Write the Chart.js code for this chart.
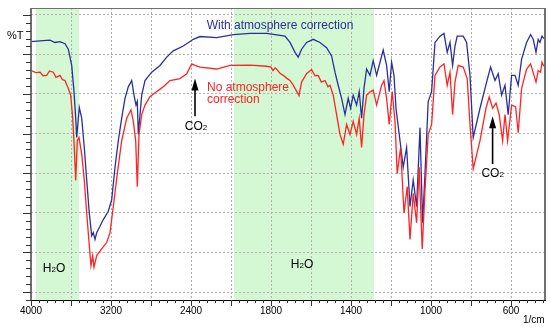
<!DOCTYPE html>
<html>
<head>
<meta charset="utf-8">
<script src="https://cdn.jsdelivr.net/npm/chart.js@4.4.1/dist/chart.umd.min.js"></script>
<style>
  html, body { margin: 0; padding: 0; background: #fff; }
</style>
</head>
<body>
<canvas id="grafico1" width="550" height="330"></canvas>
<script>
// Espectro con corrección atmosférica (azul): número de onda (1/cm) y %T
const blueWn = [4000, 3910, 3810, 3760, 3710, 3660, 3627, 3593, 3570, 3553, 3543, 3517, 3493, 3467, 3443, 3417, 3393, 3377, 3360, 3343,
  3310, 3277, 3227, 3193, 3160, 3127, 3093, 3060, 3027, 2993, 2970, 2950, 2937, 2927, 2893, 2860, 2793, 2710, 2643, 2577,
  2477, 2377, 2310, 2143, 1988, 1905, 1822, 1730, 1705, 1680, 1664, 1647, 1622, 1589, 1555, 1522, 1497, 1480, 1464, 1447,
  1430, 1414, 1402, 1389, 1372, 1359, 1347, 1335, 1322, 1305, 1289, 1272, 1255, 1239, 1222, 1209, 1197, 1185, 1175, 1155,
  1139, 1122, 1105, 1089, 1072, 1055, 1042, 1030, 1014, 997, 980, 955, 935, 919, 905, 892, 880, 869, 839, 822,
  805, 789, 755, 722, 702, 680, 664, 647, 630, 614, 597, 580, 564, 547, 522, 502, 489, 475, 464, 455,
  445, 436];
const blueT = [93.2, 93.4, 93.6, 93.0, 93.2, 92.7, 91.3, 87.2, 80.6, 73.9, 69.0, 76.6, 73.9, 66.5, 58.3, 49.9, 44.2, 45.0, 43.3, 45.0,
  46.6, 48.3, 50.4, 53.3, 61.5, 68.2, 73.9, 78.9, 81.8, 83.4, 79.7, 77.2, 78.1, 69.8, 79.7, 83.4, 85.5, 87.2, 89.3, 90.9,
  92.1, 93.8, 94.5, 94.2, 95.0, 95.3, 95.3, 94.6, 93.0, 90.5, 89.3, 91.3, 93.0, 93.8, 93.0, 91.7, 89.6, 85.5, 82.2, 78.9,
  74.8, 78.9, 76.4, 79.7, 77.2, 80.6, 73.9, 81.4, 86.3, 84.7, 88.4, 84.7, 88.0, 91.1, 87.2, 80.6, 88.0, 84.7, 76.4, 68.2,
  61.5, 66.5, 51.6, 58.3, 51.6, 71.5, 47.5, 59.9, 78.1, 80.6, 93.0, 94.6, 95.3, 90.5, 93.0, 87.2, 92.1, 94.6, 94.6, 93.0,
  84.7, 69.0, 76.4, 83.0, 86.8, 83.4, 85.1, 79.7, 82.2, 74.8, 84.7, 84.7, 82.2, 88.8, 93.0, 95.0, 93.8, 90.5, 93.8, 93.0,
  94.6, 94.0];

// Espectro sin corrección atmosférica (rojo)
const redWn = [4000, 3950, 3910, 3880, 3843, 3815, 3777, 3750, 3710, 3685, 3660, 3627, 3603, 3583, 3567, 3553, 3537, 3520, 3493, 3467,
  3443, 3417, 3400, 3383, 3370, 3343, 3293, 3243, 3210, 3177, 3137, 3093, 3043, 3000, 2977, 2953, 2937, 2920, 2893, 2860,
  2810, 2743, 2677, 2610, 2510, 2443, 2393, 2360, 2310, 2143, 2010, 1905, 1822, 1800, 1790, 1780, 1772, 1755, 1739, 1722,
  1705, 1690, 1680, 1660, 1647, 1622, 1597, 1580, 1564, 1548, 1530, 1515, 1505, 1489, 1472, 1455, 1439, 1422, 1405, 1389,
  1372, 1359, 1347, 1335, 1322, 1302, 1289, 1272, 1247, 1235, 1222, 1209, 1194, 1180, 1169, 1152, 1135, 1119, 1105, 1089,
  1072, 1059, 1044, 1030, 1014, 997, 980, 955, 935, 919, 905, 892, 880, 864, 839, 819, 805, 789, 755, 725,
  709, 692, 675, 659, 642, 630, 617, 597, 577, 564, 547, 522, 502, 485, 475, 464, 452, 445, 436];
const redT = [85.9, 85.4, 85.5, 84.6, 84.7, 85.8, 85.5, 84.2, 84.7, 83.6, 83.4, 81.4, 79.7, 73.9, 66.5, 58.2, 68.2, 69.0, 64.8, 58.2,
  49.9, 41.7, 36.7, 39.2, 36.3, 39.2, 40.9, 42.5, 45.0, 51.6, 59.9, 68.2, 73.9, 76.0, 73.1, 68.2, 56.6, 69.8, 74.8, 77.2,
  79.3, 80.6, 81.8, 83.4, 83.9, 85.1, 87.6, 87.2, 86.8, 86.3, 87.2, 87.3, 87.0, 86.8, 85.9, 86.6, 86.3, 85.2, 84.7, 84.0,
  83.4, 82.3, 81.4, 79.6, 83.0, 85.1, 86.2, 84.6, 84.7, 83.0, 83.4, 81.8, 82.2, 79.7, 74.8, 69.8, 67.3, 72.3, 69.8, 73.1,
  69.8, 73.9, 66.5, 74.8, 79.7, 80.6, 81.0, 77.2, 82.2, 83.4, 78.9, 72.3, 80.6, 73.1, 59.9, 66.5, 49.9, 56.6, 43.3, 54.9,
  47.5, 61.5, 40.9, 55.7, 69.8, 72.3, 84.7, 86.8, 87.6, 82.2, 85.5, 74.8, 83.0, 87.2, 86.8, 83.9, 72.3, 61.1, 68.2, 76.4,
  79.3, 76.4, 77.7, 74.8, 68.2, 74.8, 68.2, 77.2, 76.8, 70.2, 81.4, 86.3, 87.6, 84.7, 83.0, 85.9, 85.5, 88.0, 87.0];

// Etiquetas del eje X y zonas de absorción del agua
const tickLabels = [4000, 3200, 2400, 1800, 1400, 1000, 600];
const waterBands = [[3950, 3520], [1985, 1285]];
const co2Marks = [2360, 692];

// Escala partida: 10 cm-1 por unidad arriba de 2000, 5 cm-1 por unidad abajo
function toU(w) { return w >= 2000 ? (4000 - w) / 10 : 200 + (2000 - w) / 5; }
function fromU(u) { return u <= 200 ? 4000 - 10 * u : 2000 - 5 * (u - 200); }
function pairs(wn, t) { return wn.map((w, i) => ({ x: toU(w), y: t[i] })); }

const FONT = '"Liberation Sans", Arial, sans-serif';
const BLUE = '#2b2f9c';
const RED = '#ff2323';

function drawFormula(ctx, parts, cx, baseY, size) {
  // parts: [texto, esSubindice]
  const subSize = Math.round(size * 0.65);
  let total = 0;
  parts.forEach(([s, sub]) => {
    ctx.font = (sub ? subSize : size) + 'px ' + FONT;
    total += ctx.measureText(s).width;
  });
  let xx = cx - total / 2;
  parts.forEach(([s, sub]) => {
    ctx.font = (sub ? subSize : size) + 'px ' + FONT;
    ctx.fillText(s, xx, baseY);
    xx += ctx.measureText(s).width;
  });
}

function drawArrow(ctx, x, yTip, yTail) {
  ctx.strokeStyle = '#000';
  ctx.fillStyle = '#000';
  ctx.lineWidth = 1.6;
  ctx.beginPath();
  ctx.moveTo(x, yTail);
  ctx.lineTo(x, yTip + 8);
  ctx.stroke();
  ctx.beginPath();
  ctx.moveTo(x, yTip);
  ctx.lineTo(x - 3.5, yTip + 12);
  ctx.lineTo(x + 3.5, yTip + 12);
  ctx.closePath();
  ctx.fill();
}

const decor = {
  id: 'decor',
  beforeDraw(chart) {
    const { ctx, chartArea: a, scales: { x } } = chart;
    ctx.save();
    ctx.fillStyle = '#d3f8d3';
    waterBands.forEach(([w1, w2]) => {
      const x1 = x.getPixelForValue(toU(w1));
      const x2 = x.getPixelForValue(toU(w2));
      ctx.fillRect(x1, a.top, x2 - x1, a.bottom - a.top);
    });
    ctx.restore();
  },
  afterDraw(chart) {
    const { ctx, chartArea: a, scales: { x, y } } = chart;
    ctx.save();

    // marco
    ctx.strokeStyle = '#707070';
    ctx.lineWidth = 1;
    ctx.beginPath();
    ctx.moveTo(a.left, a.top + 0.5);
    ctx.lineTo(a.right, a.top + 0.5);
    ctx.stroke();
    ctx.lineWidth = 2;
    ctx.beginPath();
    ctx.moveTo(a.left, a.top);
    ctx.lineTo(a.left, a.bottom);
    ctx.moveTo(a.right, a.top);
    ctx.lineTo(a.right, a.bottom);
    ctx.stroke();
    ctx.strokeStyle = '#000';
    ctx.lineWidth = 1;
    ctx.beginPath();
    ctx.moveTo(a.left - 1, a.bottom + 0.5);
    ctx.lineTo(a.right + 1, a.bottom + 0.5);
    ctx.stroke();

    // marcas menores y mayores
    ctx.strokeStyle = '#333';
    ctx.lineWidth = 1;
    ctx.beginPath();
    for (let u = 0; u <= x.max; u += 8) {
      const px = Math.round(x.getPixelForValue(u)) + 0.5;
      const len = u % 40 === 0 ? 6 : 3;
      ctx.moveTo(px, a.bottom);
      ctx.lineTo(px, a.bottom + len);
    }
    for (let t = 28; t <= 100; t += 2) {
      const py = Math.round(y.getPixelForValue(t)) + 0.5;
      const len = t % 10 === 0 ? 8 : 5;
      ctx.moveTo(a.left - len, py);
      ctx.lineTo(a.left, py);
    }
    ctx.stroke();

    // textos
    ctx.textBaseline = 'alphabetic';
    ctx.fillStyle = '#000';
    ctx.font = '11px ' + FONT;
    ctx.textAlign = 'left';
    ctx.fillText('%T', 7, 39);
    ctx.font = '10px ' + FONT;
    ctx.fillText('1/cm', 523, 323);

    ctx.font = '12px ' + FONT;
    ctx.fillStyle = BLUE;
    ctx.textAlign = 'center';
    ctx.fillText('With atmosphere correction', x.getPixelForValue(toU(1755)), y.getPixelForValue(96.5));
    ctx.fillStyle = RED;
    ctx.textAlign = 'left';
    const rx = x.getPixelForValue(toU(2240));
    ctx.fillText('No atmosphere', rx, y.getPixelForValue(80.8));
    ctx.fillText('correction', rx, y.getPixelForValue(77.6));

    // flechas de CO2
    const c1 = x.getPixelForValue(toU(co2Marks[0]));
    const c2 = x.getPixelForValue(toU(co2Marks[1]));
    drawArrow(ctx, c1, y.getPixelForValue(83.9), y.getPixelForValue(74.4));
    drawArrow(ctx, c2, y.getPixelForValue(74.4), y.getPixelForValue(62.3));
    ctx.fillStyle = '#000';
    ctx.textAlign = 'left';
    drawFormula(ctx, [['CO', false], ['2', true]], c1 + 1, y.getPixelForValue(71.0), 12);
    drawFormula(ctx, [['CO', false], ['2', true]], c2, y.getPixelForValue(59.0), 12);

    // etiquetas del agua
    drawFormula(ctx, [['H', false], ['2', true], ['O', false]], x.getPixelForValue(toU(3770)), y.getPixelForValue(35.0), 12);
    drawFormula(ctx, [['H', false], ['2', true], ['O', false]], x.getPixelForValue(toU(1645)), y.getPixelForValue(36.2), 12);

    ctx.restore();
  }
};

const ctx = document.getElementById('grafico1').getContext('2d');
new Chart(ctx, {
  type: 'line',
  data: {
    datasets: [
      {
        label: 'No atmosphere correction',
        data: pairs(redWn, redT),
        borderColor: RED,
        borderWidth: 1.3,
        pointRadius: 0,
        tension: 0,
        fill: false
      },
      {
        label: 'With atmosphere correction',
        data: pairs(blueWn, blueT),
        borderColor: BLUE,
        borderWidth: 1.3,
        pointRadius: 0,
        tension: 0,
        fill: false
      }
    ]
  },
  options: {
    responsive: false,
    animation: false,
    devicePixelRatio: 1,
    layout: { padding: { left: 31, right: 5, top: 8, bottom: 8 } },
    plugins: { legend: { display: false }, tooltip: { enabled: false } },
    scales: {
      x: {
        type: 'linear',
        min: 0,
        max: toU(430),
        afterBuildTicks: (scale) => {
          const t = [];
          for (let u = 0; u <= 480; u += 40) t.push({ value: u });
          scale.ticks = t;
        },
        grid: { color: '#b0b0b0', lineWidth: 1, drawTicks: false },
        border: { display: false, dash: [2, 2] },
        ticks: {
          autoSkip: false,
          maxRotation: 0,
          padding: 5,
          color: '#000',
          font: { family: FONT, size: 10 },
          callback: (v) => {
            const w = Math.round(fromU(v));
            return tickLabels.includes(w) ? String(w) : '';
          }
        }
      },
      y: {
        min: 28,
        max: 101.7,
        afterBuildTicks: (scale) => {
          const t = [];
          for (let v = 30; v <= 100; v += 10) t.push({ value: v });
          scale.ticks = t;
        },
        grid: { color: '#b0b0b0', lineWidth: 1, drawTicks: false },
        border: { display: false, dash: [2, 2] },
        ticks: { display: false }
      }
    }
  },
  plugins: [decor]
});
</script>
</body>
</html>
